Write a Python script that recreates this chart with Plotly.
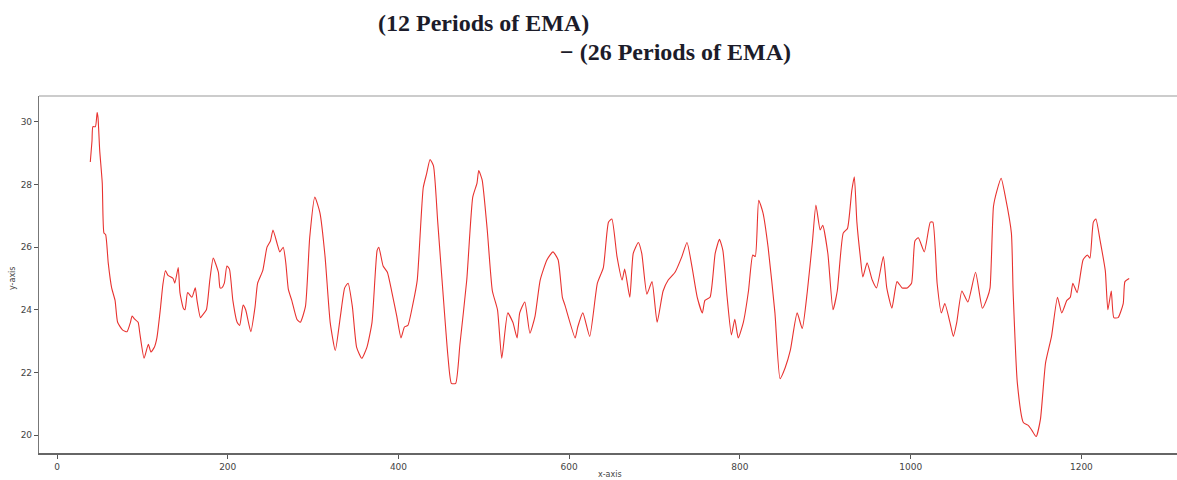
import plotly.graph_objects as go

# MACD line: 12-period EMA minus 26-period EMA, sampled along the index
x_index = [
    39, 41, 42, 45, 47, 48, 50, 53, 55, 57, 60, 64, 68, 71, 77, 82, 86, 88, 91, 95,
    97, 102, 107, 110, 114, 117, 121, 124, 127, 130, 136, 138, 142, 144, 148, 150, 153, 158, 162, 164,
    168, 171, 175, 179, 183, 189, 191, 193, 196, 199, 202, 206, 211, 214, 218, 221, 227, 232, 235, 241,
    246, 250, 253, 258, 261, 265, 268, 271, 275, 281, 285, 291, 296, 302, 308, 314, 320, 326, 332, 337,
    341, 346, 351, 357, 363, 369, 375, 377, 382, 387, 392, 398, 403, 407, 411, 417, 422, 429, 433, 437,
    441, 446, 452, 458, 462, 467, 472, 480, 487, 492, 494, 498, 504, 510, 516, 521, 528, 534, 539, 542,
    548, 554, 560, 566, 574, 581, 587, 592, 595, 607, 610, 616, 624, 633, 640, 646, 650, 656, 662, 665,
    671, 675, 681, 685, 691, 697, 703, 710, 716, 724, 732, 738, 744, 750, 756, 759, 765, 771, 776, 780,
    785, 790, 794, 798, 804, 810, 815, 818, 822, 827, 833, 841, 847, 853, 859, 867, 873, 879, 885, 889,
    894, 897, 903, 909, 914, 921, 926, 931, 934, 937, 941, 944, 949, 955, 960, 968, 972, 978, 984, 990,
    996, 1001, 1005, 1009, 1016, 1023, 1026, 1031, 1036, 1040, 1046, 1050, 1054, 1060, 1067, 1076, 1084, 1090, 1093, 1097,
    1101, 1106, 1111, 1118, 1120, 1125, 1132, 1138, 1142, 1147, 1152, 1158, 1165, 1172, 1177, 1183, 1187, 1190, 1195, 1202,
    1207, 1210, 1214, 1217, 1222, 1228, 1231, 1235, 1238, 1243, 1249, 1251, 1256,
]
macd_values = [
    28.72, 29.4, 29.85, 29.85, 30.3, 30.15, 29.1, 28.05, 26.45, 26.4, 25.5, 24.7, 24.3, 23.6, 23.35, 23.3, 23.6, 23.8, 23.7, 23.6,
    23.25, 22.45, 22.9, 22.65, 22.8, 23.1, 24.0, 24.8, 25.25, 25.1, 25.0, 24.85, 25.35, 24.55, 24.05, 24.0, 24.55, 24.4, 24.7, 24.3,
    23.75, 23.85, 24.0, 24.95, 25.65, 25.2, 24.7, 24.7, 24.85, 25.4, 25.3, 24.3, 23.6, 23.5, 24.15, 24.0, 23.3, 24.1, 24.85, 25.25,
    26.0, 26.2, 26.55, 26.1, 25.85, 26.0, 25.5, 24.65, 24.3, 23.7, 23.6, 24.1, 26.3, 27.6, 27.1, 25.7, 23.6, 22.7, 23.8, 24.7,
    24.85, 24.1, 22.8, 22.45, 22.8, 23.6, 25.9, 26.0, 25.4, 25.2, 24.6, 23.8, 23.1, 23.45, 23.5, 24.2, 24.95, 27.9, 28.35, 28.8,
    28.6, 26.8, 24.6, 22.5, 21.65, 21.65, 22.9, 24.95, 27.6, 28.05, 28.45, 28.15, 26.55, 24.6, 24.0, 22.45, 23.9, 23.6, 23.1, 23.9,
    24.25, 23.25, 23.8, 24.95, 25.6, 25.85, 25.6, 24.4, 24.15, 23.1, 23.45, 23.9, 23.15, 24.85, 25.35, 26.8, 26.9, 25.7, 24.95, 25.3,
    24.4, 25.8, 26.15, 25.8, 24.5, 24.9, 23.6, 24.6, 24.95, 25.2, 25.7, 26.15, 25.35, 24.4, 23.9, 24.3, 24.4, 25.8, 26.25, 25.9,
    24.4, 23.2, 23.7, 23.1, 23.6, 24.6, 25.75, 25.7, 27.5, 27.1, 26.0, 23.9, 21.8, 22.15, 22.7, 23.9, 23.4, 24.6, 26.2, 27.35,
    26.55, 26.7, 25.8, 24.0, 24.6, 26.45, 26.6, 27.8, 28.25, 26.8, 25.7, 25.05, 25.5, 24.95, 24.7, 25.7, 24.7, 24.05, 24.9, 24.7,
    24.7, 24.85, 26.2, 26.3, 25.85, 26.8, 26.8, 24.85, 23.9, 24.2, 23.6, 23.15, 23.6, 24.6, 24.25, 25.2, 24.05, 24.4, 24.7, 27.3,
    27.8, 28.2, 27.6, 26.45, 24.6, 21.65, 20.4, 20.3, 20.15, 19.95, 20.5, 22.3, 23.15, 24.4, 23.9, 24.3, 24.4, 24.85, 24.55, 25.6,
    25.75, 25.65, 26.8, 26.9, 26.2, 25.25, 24.0, 24.6, 23.75, 23.75, 24.2, 24.9, 25.0,
]

x_ticks = [0, 200, 400, 600, 800, 1000, 1200]
y_ticks = [20, 22, 24, 26, 28, 30]
title_lines = ["(12 Periods of EMA)", "\u2212 (26 Periods of EMA)"]

fig = go.Figure()
fig.add_trace(go.Scatter(
    x=x_index, y=macd_values, mode="lines",
    line=dict(color="#e8322f", width=1.1, shape="spline", smoothing=0.5),
    showlegend=False, hoverinfo="skip",
))

axis_font = dict(family="DejaVu Sans", size=9, color="#444444")
title_font = dict(family="Liberation Serif", size=24, color="#1c1c2a", weight="bold")

fig.update_layout(
    width=1177, height=480,
    margin=dict(l=39, r=0, t=96, b=27),
    paper_bgcolor="white", plot_bgcolor="white",
    xaxis=dict(
        range=[-21.1, 1312], tickmode="array", tickvals=x_ticks,
        ticks="outside", ticklen=4, tickwidth=1, tickcolor="#555555",
        showgrid=False, zeroline=False,
        showline=True, linecolor="#666666", linewidth=1.6,
        tickfont=axis_font,
    ),
    yaxis=dict(
        range=[19.425, 30.83], tickmode="array", tickvals=y_ticks,
        ticks="outside", ticklen=4, tickwidth=1, tickcolor="#555555",
        showgrid=False, zeroline=False,
        showline=True, linecolor="#777777", linewidth=1.2,
        tickfont=axis_font,
    ),
    shapes=[dict(type="line", xref="paper", yref="paper", x0=0, x1=1, y0=1, y1=1,
                 line=dict(color="#999999", width=1.2))],
    annotations=[
        dict(text=title_lines[0], xref="paper", yref="paper", x=(376 - 39) / 1138, y=1 + (96 - 23) / 357,
             xanchor="left", yanchor="middle", showarrow=False, font=title_font),
        dict(text=title_lines[1], xref="paper", yref="paper", x=(558 - 39) / 1138, y=1 + (96 - 52) / 357,
             xanchor="left", yanchor="middle", showarrow=False, font=title_font),
        dict(text="x-axis", xref="paper", yref="paper", x=(610 - 39) / 1138, y=-(474 - 453) / 357,
             xanchor="center", yanchor="middle", showarrow=False,
             font=dict(family="DejaVu Sans", size=8, color="#444444")),
        dict(text="y-axis", xref="paper", yref="paper", x=-(39 - 12) / 1138, y=(453 - 278) / 357,
             xanchor="center", yanchor="middle", showarrow=False, textangle=-90,
             font=dict(family="DejaVu Sans", size=8, color="#444444")),
    ],
)

fig.write_html("out.html")
